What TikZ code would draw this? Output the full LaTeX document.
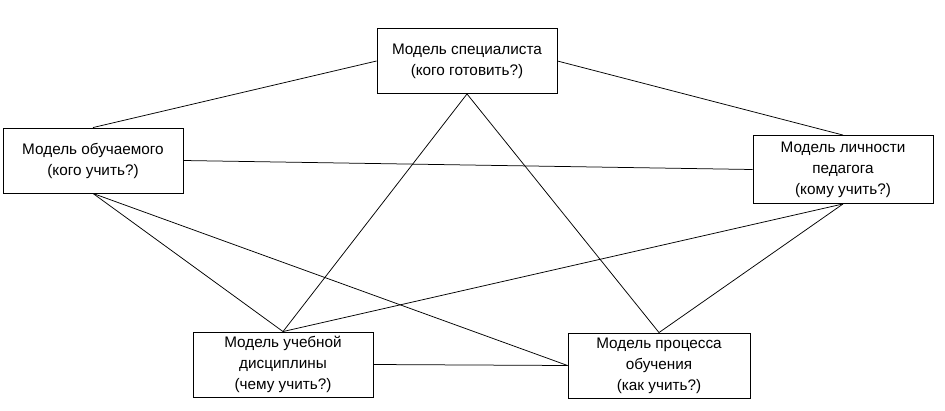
\documentclass[tikz,border=0pt]{standalone}
\usepackage{fontspec}
\setmainfont{Liberation Sans}
\usepackage{tikz}
\usetikzlibrary{positioning}

\begin{document}
\begin{tikzpicture}[
        x=1pt, y=-1pt,
        modelbox/.style={draw, line width=0.9pt, minimum width=180pt, minimum height=65pt, align=center, inner sep=2pt, font=\fontsize{15.3}{21}\selectfont},
        link/.style={line width=0.75pt}
    ]
        \useasboundingbox (0,0) rectangle (945,410);
        \node[modelbox] (spec) at (467,61) {Модель специалиста\\(кого готовить?)};
        \node[modelbox] (learner) at (93,160.5) {Модель обучаемого\\(кого учить?)};
        \node[modelbox, minimum height=68pt] (teacher) at (843,169.5) {Модель личности\\педагога\\(кому учить?)};
        \node[modelbox] (subject) at (283,364.5) {Модель учебной\\дисциплины\\(чему учить?)};
        \node[modelbox, minimum width=182pt] (process) at (659,365.5) {Модель процесса\\обучения\\(как учить?)};

        \draw[link] (spec.west) -- (learner.north);
        \draw[link] (spec.east) -- (teacher.north);
        \draw[link] (spec.south) -- (subject.north);
        \draw[link] (spec.south) -- (process.north);
        \draw[link] (learner.east) -- (teacher.west);
        \draw[link] (learner.south) -- (subject.north);
        \draw[link] (learner.south) -- (process.west);
        \draw[link] (teacher.south) -- (subject.north);
        \draw[link] (teacher.south) -- (process.north);
        \draw[link] (subject.east) -- (process.west);
    \end{tikzpicture}
\end{document}
